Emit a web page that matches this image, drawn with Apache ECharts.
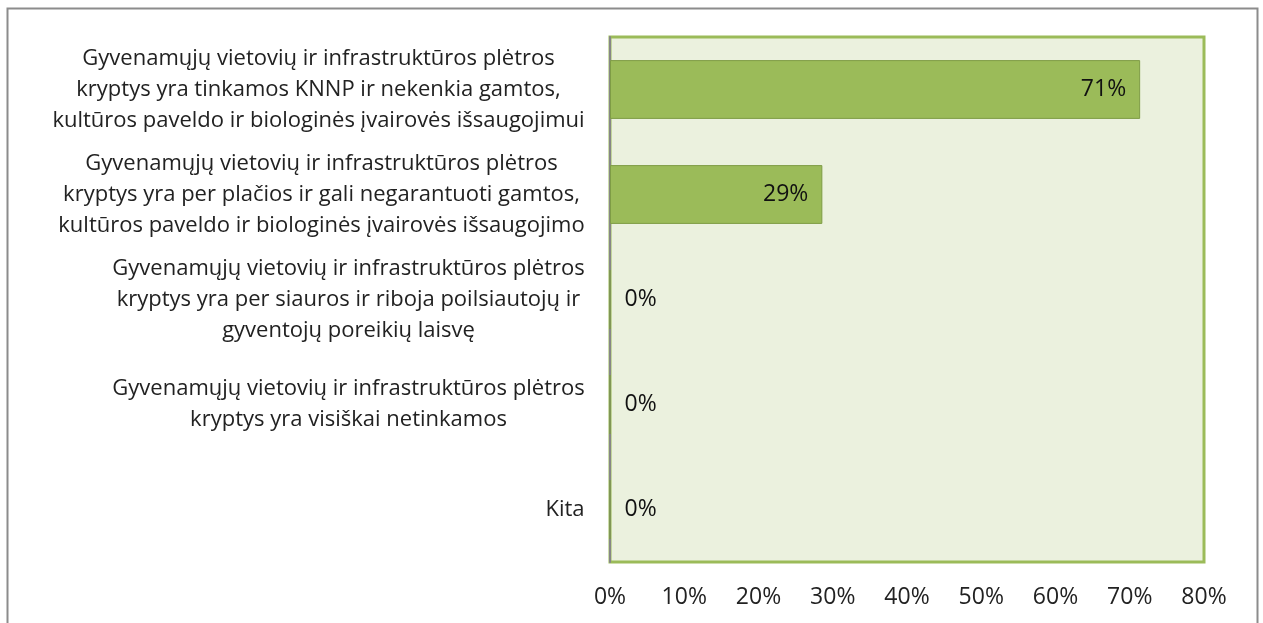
<!DOCTYPE html>
<html><head><meta charset="utf-8">
<script src="https://cdn.jsdelivr.net/npm/echarts@6/dist/echarts.min.js"></script>
<style>html,body{margin:0;padding:0;background:#fff}#c{width:1263px;height:623px}</style>
</head><body><div id="c"></div>
<script>
const categories = [
  "Gyvenamųjų vietovių ir infrastruktūros plėtros\nkryptys yra tinkamos KNNP ir nekenkia gamtos,\nkultūros paveldo ir biologinės įvairovės išsaugojimui",
  "Gyvenamųjų vietovių ir infrastruktūros plėtros\nkryptys yra per plačios ir gali negarantuoti gamtos,\nkultūros paveldo ir biologinės įvairovės išsaugojimo",
  "Gyvenamųjų vietovių ir infrastruktūros plėtros\nkryptys yra per siauros ir riboja poilsiautojų ir\ngyventojų poreikių laisvę",
  "Gyvenamųjų vietovių ir infrastruktūros plėtros\nkryptys yra visiškai netinkamos",
  "Kita"
];
const values = [71.4, 28.6, 0, 0, 0];
const xTicks = [0, 10, 20, 30, 40, 50, 60, 70, 80];

const FONT = '"Open Sans"';
const FS = 22;
const NFS = 23;
const ctx = document.createElement('canvas').getContext('2d');
ctx.font = FS + 'px ' + FONT;
const rich = {};
categories.forEach((c, i) => {
  const w = Math.max(...c.split('\n').map(l => ctx.measureText(l).width));
  rich['l' + i] = {width: Math.ceil(w) + 2, align: 'center', fontSize: FS, fontFamily: FONT, color: '#222', lineHeight: 31};
});

const chart = echarts.init(document.getElementById('c'), null, {renderer: 'canvas'});
chart.setOption({
  animation: false,
  backgroundColor: '#fff',
  textStyle: {fontFamily: FONT},
  graphic: [{
    type: 'rect', shape: {x: 7.5, y: 8.5, width: 1250, height: 640},
    style: {fill: 'none', stroke: '#8c8c8c', lineWidth: 2}, z: -10
  }],
  grid: {
    left: 610, right: 59, top: 37, bottom: 61,
    show: true, backgroundColor: '#EBF1DE', borderColor: '#9BBB59', borderWidth: 3
  },
  xAxis: {
    type: 'value', min: xTicks[0], max: xTicks[xTicks.length - 1], interval: 10,
    axisLine: {show: false}, axisTick: {show: false}, splitLine: {show: false},
    axisLabel: {formatter: '{value}%', color: '#222', fontSize: NFS, fontFamily: FONT, margin: 24}
  },
  yAxis: {
    type: 'category', inverse: true, data: categories,
    axisLine: {show: true, lineStyle: {color: '#868686', width: 2}},
    axisTick: {show: false},
    axisLabel: {
      align: 'right', margin: 24, color: '#222', fontSize: FS, lineHeight: 31, fontFamily: FONT,
      rich: rich,
      formatter: (v, i) => v.split('\n').map(l => '{l' + i + '|' + l + '}').join('\n')
    }
  },
  series: [{
    type: 'bar', barWidth: '56%',
    data: values.map(v => ({
      value: v,
      label: {position: v > 0 ? 'insideRight' : 'right'}
    })),
    itemStyle: {color: '#9BBB59', borderColor: '#7E9C45', borderWidth: 1},
    label: {
      show: true, distance: 14, color: '#111', fontSize: NFS, fontFamily: FONT,
      formatter: p => Math.round(p.value) + '%'
    }
  }]
});
</script></body></html>
